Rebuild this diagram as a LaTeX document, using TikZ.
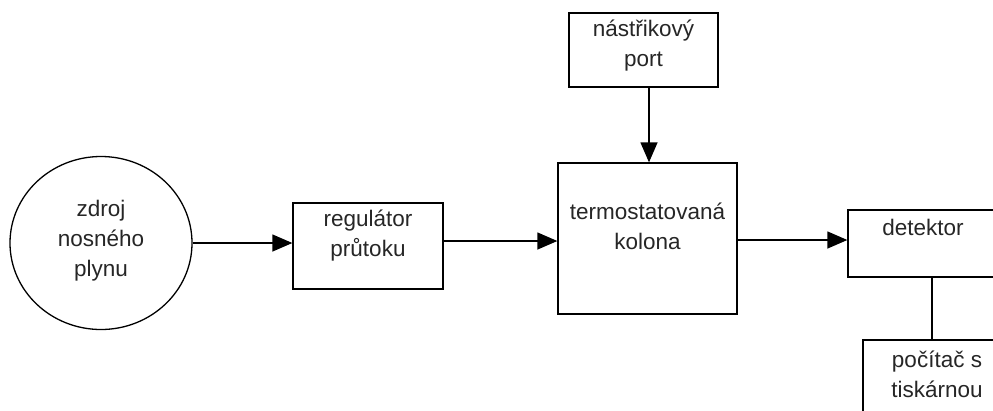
\documentclass[tikz,border=0pt]{standalone}
\usepackage{fontspec}
\setmainfont{Liberation Sans}
\usetikzlibrary{arrows.meta,shapes.geometric}
\begin{document}
\begin{tikzpicture}[x=1pt,y=-1pt,
  box/.style={draw, line width=1.3pt, inner sep=0pt},
  txt/.style={align=center, inner sep=0pt, font=\fontsize{22.5}{30}\selectfont, text=black!85},
  arr/.style={line width=1.3pt, -{Triangle[length=20pt,width=17pt]}},
  ln/.style={line width=1.3pt}]
\useasboundingbox (0,0) rectangle (993,410);
\clip (0,0) rectangle (993,410);
\fill[white] (0,0) rectangle (993,410);
% nodes
\node[box, ellipse, minimum width=182pt, minimum height=173pt] (src) at (101,243) {};
\node[txt] (srct) at (101,241) {zdroj\\nosného\\plynu};
\node[box, minimum width=150pt, minimum height=86pt] (reg) at (368,246) {};
\node[txt] (regt) at (368,236) {regulátor\\průtoku};
\node[box, minimum width=179pt, minimum height=151pt] (col) at (647.5,238.5) {};
\node[txt] (colt) at (647.5,226) {termostatovaná\\kolona};
\node[box, minimum width=149pt, minimum height=74pt] (inj) at (643.5,50) {};
\node[txt] (injt) at (643.5,46) {nástřikový\\port};
\node[box, minimum width=160pt, minimum height=67pt] (det) at (928,243.5) {};
\node[txt] (dett) at (923,227) {detektor};
\node[box, minimum width=150pt, minimum height=90pt] (pc) at (938,385) {};
\node[txt] (pct) at (937,374) {počítač s\\tiskárnou};
% connectors
\draw[arr] (src.east) -- (src.east -| reg.west);
\draw[arr] (reg.east |- 0,241) -- (col.west |- 0,241);
\draw[arr] (col.east |- 0,240) -- (det.west |- 0,240);
\draw[arr] (inj.south -| 649,0) -- (col.north -| 649,0);
\draw[ln] (det.south -| 932,0) -- (pc.north -| 932,0);
\end{tikzpicture}
\end{document}
